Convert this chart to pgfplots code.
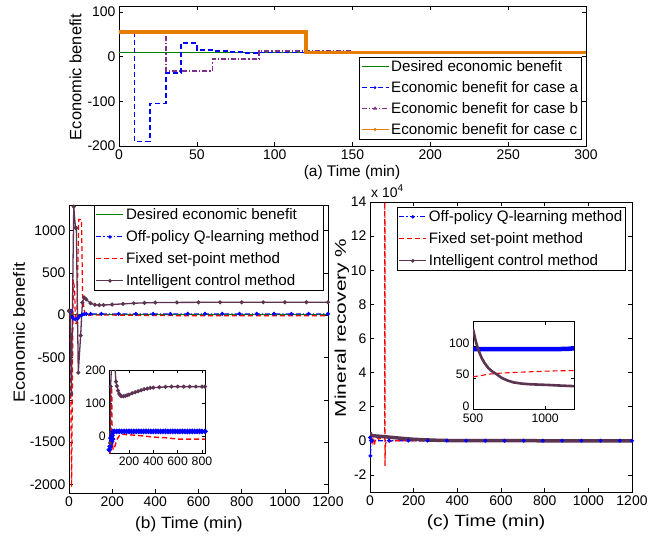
\documentclass[border=0pt]{standalone}
\usepackage{fontspec}
\setmainfont{Liberation Sans}
\newfontfamily\ylb{Liberation Sans}[FakeStretch=1.12]
\newfontfamily\ylc{Liberation Sans}[FakeStretch=1.35]
\newfontfamily\xlb{Liberation Sans}[FakeStretch=1.06]
\newfontfamily\xlc{Liberation Sans}[FakeStretch=1.18]
\usepackage{pgfplots}
\pgfplotsset{compat=1.18}
\definecolor{mgreen}{rgb}{0,0.5,0}
\definecolor{mblue}{rgb}{0,0,1}
\definecolor{mpurple}{RGB}{126,47,142}
\definecolor{morange}{RGB}{228,125,0}
\definecolor{mdark}{RGB}{92,52,82}
\definecolor{mred}{rgb}{1,0,0}
\pgfplotsset{
  mylegline/.style={legend image code/.code={\draw[mark repeat=2,mark phase=2,##1] plot coordinates {(0bp,0bp) (13.5bp,0bp) (27bp,0bp)};}},
  mat/.style={scale only axis, axis line style={black, line width=0.6bp}, tick style={black, line width=0.5bp},
    tick align=inside, major tick length=4bp,
    /pgf/number format/assume math mode=true, /pgf/number format/1000 sep={},
    tick label style={font=\fontsize{14}{16}\selectfont}, scaled ticks=false,
    legend cell align=left,
    legend style={draw=black, line width=0.5bp, font=\fontsize{15.2}{18}\selectfont, inner sep=1.5bp, row sep=4.5bp},
    mylegline, axis background/.style={fill=white}},
  inset/.style={tick label style={font=\fontsize{12.3}{14}\selectfont}, major tick length=3bp},
  dsh/.style={dash pattern=on 5bp off 3bp},
  dshd/.style={dash pattern=on 5bp off 2bp on 1.2bp off 2bp},
}
\begin{document}
\begin{tikzpicture}
\useasboundingbox (0,0) rectangle (661bp,-537bp);

% ---------------- (a) ----------------
\begin{axis}[mat, at={(119bp,-146bp)}, anchor=south west, width=467bp, height=140bp,
  xmin=0, xmax=300, ymin=-200, ymax=113,
  xtick={0,50,100,150,200,250,300}, ytick={-200,-100,0,100},
  xlabel={(a) Time (min)},
  xlabel style={at={(axis description cs:0.499,-0.188)}, anchor=center, font=\fontsize{15.5}{18}\selectfont},
  ylabel={Economic benefit},
  ylabel style={at={(axis description cs:-0.093,0.493)}, anchor=center, font=\fontsize{16.5}{18}\selectfont},
  legend style={at={(0.991,0.638)}, anchor=north east}]
\addlegendimage{mgreen, line width=1bp}
\addlegendentry{Desired economic benefit}
\addlegendimage{mblue, line width=1bp, dsh, mark=*, mark size=0.8bp, mark options={solid}}
\addlegendentry{Economic benefit for case a}
\addlegendimage{mpurple, line width=1bp, dshd, mark=triangle*, mark size=1.3bp, mark options={solid}}
\addlegendentry{Economic benefit for case b}
\addlegendimage{morange, line width=1.2bp, mark=*, mark size=0.9bp}
\addlegendentry{Economic benefit for case c}
\addplot[mgreen, line width=1bp, forget plot] coordinates {(0,9) (300,9)};
\addplot[mblue, line width=1.6bp, dsh, forget plot] coordinates {
 (0,55) (10,55) (10,-190) (20,-190) (20,-105) (30,-105) (30,-37) (40,-37)
 (40,30) (50,30) (50,15) (60,15) (60,12) (70,12) (70,10) (80,10) (80,7.5) (90,7.5) (90,9) (300,9)};
\addplot[mpurple, line width=1.6bp, dshd, forget plot] coordinates {
 (0,55) (30,55) (30,-32) (60,-32) (60,-5) (90,-5) (90,12) (150,12) (150,9) (300,9)};
\addplot[morange, line width=3.5bp, forget plot] coordinates {
 (0,55) (120,55) (120,9) (300,9)};
\end{axis}

% ---------------- (b) ----------------
\begin{axis}[mat, at={(69bp,-493bp)}, anchor=south west, width=259bp, height=288bp,
  xmin=0, xmax=1200, ymin=-2100, ymax=1300,
  xtick={0,200,400,600,800,1000,1200}, ytick={-2000,-1500,-1000,-500,0,500,1000},
  xlabel={\xlb (b) Time (min)},
  xlabel style={at={(axis description cs:0.463,-0.108)}, anchor=center, font=\fontsize{16.3}{18}\selectfont},
  ylabel={\ylb Economic benefit},
  ylabel style={at={(axis description cs:-0.193,0.557)}, anchor=center, font=\fontsize{16.3}{18}\selectfont},
  legend style={at={(0.981,1.0)}, anchor=north east, row sep=5.5bp}]
\addlegendimage{mgreen, line width=1bp}
\addlegendentry{Desired economic benefit}
\addlegendimage{mblue, line width=1bp, dshd, mark=*, mark size=1.2bp, mark options={solid}}
\addlegendentry{Off-policy Q-learning method}
\addlegendimage{mred, line width=1bp, dsh}
\addlegendentry{Fixed set-point method}
\addlegendimage{mdark, line width=1.2bp, mark=*, mark size=1.2bp}
\addlegendentry{Intelligent control method}
\addplot[mgreen, line width=1bp, forget plot] coordinates {(0,10) (1200,10)};
\addplot[mblue, line width=1.2bp, dshd, mark=*, mark size=1.3bp, mark options={solid}, forget plot] coordinates {
 (0,50) (10,50) (15,-20) (20,-40) (30,-50) (40,-40) (50,-10) (60,5) (70,12) (80,14) (100,15)
 (150,15) (230,15) (310,15) (390,15) (470,15) (550,15) (630,15) (710,15) (790,15) (870,15)
 (950,15) (1030,15) (1110,15) (1200,15)};
\addplot[mred, line width=1.2bp, dsh, forget plot] coordinates {
 (0,10) (5,0) (12,-2030) (20,420) (26,300) (30,-100) (36,-100) (45,1130) (58,1130) (63,230)
 (70,60) (80,-10) (100,0) (200,0) (400,-5) (600,-8) (1200,-8)};
\addplot[mdark, line width=1.3bp, mark=*, mark size=1.3bp, forget plot] coordinates {
 (0,50) (5,50) (11,-930) (22,1280) (30,1030) (34,1030) (43,-680) (54,-240) (62,150) (70,210)
 (80,185) (100,140) (120,122) (140,118) (160,119) (200,125) (250,133) (300,140) (350,145)
 (400,148) (500,150) (600,151) (700,151) (800,151) (900,152) (1000,152) (1100,152) (1200,152)};
\end{axis}

% inset (b)
\begin{axis}[mat, inset, at={(109.3bp,-453bp)}, anchor=south west, width=95.7bp, height=83bp,
  xmin=38, xmax=825, ymin=-50, ymax=200,
  xtick={200,400,600,800}, ytick={0,100,200}]
\addplot[mblue, line width=2.2bp, mark=*, mark size=1.4bp] coordinates {
 (38,-40) (45,-30) (52,-5) (56,-15) (60,2) (65,-8) (70,14) (80,15) (100,15) (120,15) (140,15)
 (160,15) (180,15) (200,15) (220,15) (240,15) (260,15) (280,15) (300,15) (320,15) (340,15)
 (360,15) (380,15) (400,15) (420,15) (440,15) (460,15) (480,15) (500,15) (520,15) (540,15)
 (560,15) (580,15) (600,15) (620,15) (640,15) (660,15) (680,15) (700,15) (720,15) (740,15)
 (760,15) (780,15) (800,15) (825,15)};
\addplot[mred, line width=1.4bp, dsh] coordinates {
 (38,-60) (50,-40) (54,150) (58,140) (62,-20) (70,-40) (80,-35) (100,-10) (125,5) (150,6)
 (200,5) (300,2) (400,-2) (500,-4) (600,-8) (700,-8) (825,-8)};
\addplot[mdark, line width=1.3bp, mark=*, mark size=1.3bp] coordinates {
 (38,-60) (44,-20) (49,150) (55,205) (65,210) (75,210) (85,205) (93,165) (100,152) (110,138)
 (120,128) (130,123) (140,121) (155,121) (170,122) (185,124) (200,126) (225,130) (250,133)
 (275,136) (300,139) (325,142) (350,144) (375,146) (400,147) (450,148) (500,149) (550,150)
 (600,150) (650,150) (700,150) (750,150) (800,150) (825,150)};
\end{axis}

% ---------------- (c) ----------------
\begin{axis}[mat, at={(370bp,-492bp)}, anchor=south west, width=262bp, height=290bp,
  xmin=0, xmax=1200, ymin=-3, ymax=14,
  xtick={0,200,400,600,800,1000,1200}, ytick={-2,0,2,4,6,8,10,12,14},
  xlabel={\xlc (c) Time (min)},
  xlabel style={at={(axis description cs:0.443,-0.103)}, anchor=center, font=\fontsize{16.3}{18}\selectfont},
  ylabel={\ylc Mineral recovery \%},
  ylabel style={at={(axis description cs:-0.107,0.566)}, anchor=center, font=\fontsize{15.5}{18}\selectfont},
  legend style={at={(0.977,0.983)}, anchor=north east, row sep=5.5bp}]
\addlegendimage{mblue, line width=1bp, dshd, mark=*, mark size=1.2bp, mark options={solid}}
\addlegendentry{Off-policy Q-learning method}
\addlegendimage{mred, line width=1bp, dsh}
\addlegendentry{Fixed set-point method}
\addlegendimage{mdark, line width=1.2bp, mark=*, mark size=1.2bp}
\addlegendentry{Intelligent control method}
\addplot[mblue, line width=1.2bp, dshd, mark=*, mark size=1.3bp, mark options={solid}, forget plot] coordinates {
 (0,0.2) (2,-0.88) (5,0.02) (10,0.01) (88,0.0096) (176,0.0096) (264,0.0096) (352,0.0096)
 (440,0.0096) (528,0.0096) (616,0.0096) (704,0.0096) (792,0.0096) (880,0.0096) (968,0.0096)
 (1056,0.0096) (1144,0.0097) (1200,0.0097)};
\addplot[mred, line width=1.2bp, dsh, forget plot] coordinates {
 (0,0.1) (5,0.25) (10,-0.1) (15,0.2) (20,-0.3) (25,0.15) (30,0.2) (40,0.1) (50,0.15) (60,0.1)
 (67,0.1) (68,25) (68.5,-1.47) (71,-0.2) (76,0.05) (90,-0.05) (100,0.0) (200,0.005) (500,0.0051)
 (800,0.0059) (1200,0.0062)};
\addplot[mdark, line width=3.5bp, forget plot] coordinates {
 (0,0.5) (3,0.35) (10,0.3) (30,0.28) (60,0.25) (100,0.2) (150,0.14) (200,0.09) (250,0.06)
 (300,0.035) (350,0.02) (400,0.015) (500,0.0128) (600,0.0066) (800,0.0043) (1200,0.0037)};
\end{axis}
\node[anchor=base west, font=\fontsize{14}{16}\selectfont, inner sep=0pt] at (371bp,-197bp) {x 10\raisebox{6bp}{\fontsize{10}{10}\selectfont 4}};

% inset (c)
\begin{axis}[mat, inset, at={(473bp,-409.3bp)}, anchor=south west, width=101bp, height=87.6bp,
  xmin=500, xmax=1200, ymin=0, ymax=140,
  xtick={500,1000}, ytick={0,50,100},
  yticklabel style={yshift=3.5bp}, xticklabel style={yshift=-1.5bp}]
\addplot[mblue, line width=4.5bp] coordinates {(500,96) (1000,96) (1150,96.5) (1200,97.5)};
\addplot[mred, line width=1.1bp, dsh] coordinates {
 (500,52) (530,53) (560,54) (600,56) (650,57) (700,58) (800,59) (900,60) (1000,61) (1200,62)};
\addplot[mdark, line width=2.6bp] coordinates {
 (500,128) (510,118) (520,108) (537,95) (560,82) (580,74) (606,66) (630,61) (664,56) (700,50)
 (740,46) (780,43) (840,41) (896,40) (1012,39) (1100,38) (1200,37)};
\end{axis}
\end{tikzpicture}
\end{document}
